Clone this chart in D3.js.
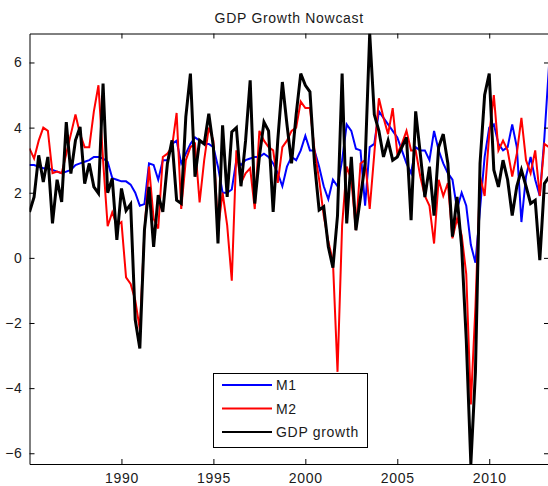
<!DOCTYPE html>
<html><head><meta charset="utf-8">
<script src="https://cdn.jsdelivr.net/npm/d3@7"></script>
<style>
html,body{margin:0;padding:0;background:#fff;}
svg{display:block;}
text{font-family:"Liberation Sans",Arial,sans-serif;letter-spacing:0.7px;}
</style></head>
<body>
<svg id="chart" width="548" height="486"></svg>
<script>
// ---- data (quarterly, starting 1985Q1) ----
const startYear = 1985;
const gdpGrowth = [1.41,1.87,3.15,2.33,3.1,1.06,2.4,1.72,4.17,2.59,
  3.61,4.02,2.28,2.9,2.18,1.98,5.35,2.0,2.44,0.55,
  2.13,1.45,1.65,-1.9,-2.78,0.85,2.18,0.34,1.93,1.41,
  2.9,3.61,1.77,1.67,4.33,5.66,2.49,3.61,3.5,4.43,
  3.4,0.44,4.07,1.87,3.87,4.0,2.2,3.6,5.45,1.67,
  3.1,4.17,3.9,1.41,3.6,5.4,4.1,2.9,4.4,5.66,
  5.3,5.1,2.9,1.47,1.57,0.34,-0.3,1.3,5.66,1.06,
  3.1,0.85,1.87,2.9,6.89,4.4,3.9,3.1,3.6,3.0,
  3.1,3.4,3.7,1.16,4.5,3.2,1.87,2.8,1.3,3.4,
  3.8,2.9,0.65,1.87,0.34,-2.5,-6.33,-3.5,2.9,5.0,
  5.66,2.7,2.18,3.0,2.4,1.3,2.2,2.7,2.2,1.67,
  1.77,-0.07,2.28,2.49];
const m2 = [3.36,3.05,3.6,4.0,3.9,2.6,2.65,2.6,3.2,3.8,
  4.4,3.8,3.4,3.4,4.5,5.3,3.0,0.97,1.4,1.0,
  1.1,-0.6,-0.8,-1.3,-2.2,0.8,2.8,1.2,0.9,3.1,
  3.2,3.4,4.45,1.5,3.0,3.4,3.5,1.7,3.0,4.0,
  3.6,0.85,2.0,1.0,-0.7,3.3,2.3,2.6,2.75,1.5,
  3.9,3.6,3.4,3.3,2.3,3.4,3.6,3.9,4.0,4.8,
  4.6,4.6,3.3,2.4,1.3,0.5,-0.1,-3.5,1.0,2.8,
  2.4,0.85,2.9,3.0,1.5,3.2,4.9,4.3,3.8,4.6,
  3.2,3.5,3.9,3.3,3.3,2.5,1.9,1.6,0.44,2.4,
  1.9,2.3,0.6,1.2,0.7,-0.5,-4.5,-1.5,2.5,1.9,
  3.8,5.0,3.3,3.6,3.3,2.5,3.2,4.3,3.0,2.6,
  3.3,1.9,3.5,3.4];
const m1 = [2.85,2.85,2.8,2.75,2.75,2.7,2.65,2.6,2.65,2.7,
  2.85,2.9,2.95,3.0,3.1,3.1,3.05,2.95,2.45,2.4,
  2.35,2.35,2.25,2.0,1.6,1.65,2.9,2.85,2.4,3.0,
  3.0,3.5,3.6,2.9,3.2,3.5,3.7,3.6,3.5,3.5,
  3.4,2.8,2.0,2.0,2.1,3.0,2.85,3.0,3.05,3.1,
  3.1,3.2,3.1,2.9,2.6,2.2,2.8,3.1,3.0,3.3,
  3.75,3.3,3.3,2.8,2.2,1.8,2.4,2.2,3.0,4.1,
  3.9,3.35,3.3,1.6,3.4,3.5,4.5,4.3,4.1,3.9,
  3.7,3.3,2.9,2.6,3.4,3.3,3.3,3.0,3.9,3.3,
  2.9,2.6,2.4,1.5,2.0,1.6,0.4,-0.15,1.5,3.1,
  4.0,4.1,3.5,3.3,3.4,4.1,3.4,1.1,2.5,3.1,
  2.4,1.9,3.7,5.9];
const xTicks = [1990,1995,2000,2005,2010];
const yTicks = [-6,-4,-2,0,2,4,6];
const seriesNames = ["M1","M2","GDP growth"];
const seriesColors = ["#0000ff","#ff0000","#000000"];
const titleText = "GDP Growth Nowcast";

// ---- layout ----
const L = 29.5, R = 549, T = 33.5, B = 464;
const dates = gdpGrowth.map((_, i) => startYear + i / 4);
const x = d3.scaleLinear().domain([startYear, dates[dates.length - 1]]).range([L, R]);
const y = d3.scaleLinear().domain([-6.33, 6.89]).range([B, T]);

const svg = d3.select("#chart");
svg.append("defs").append("clipPath").attr("id", "clip")
  .append("rect").attr("x", L).attr("y", T).attr("width", R - L).attr("height", B - T);

// title
svg.append("text").attr("x", (L + R) / 2).attr("y", 22.5)
  .attr("text-anchor", "middle").attr("font-size", 14).attr("fill", "#1a1a1a")
  .text(titleText);

// lines
const series = [m1, m2, gdpGrowth];
const widths = [2, 2, 3];
const line = d3.line().x((d, i) => x(dates[i])).y(d => y(d));
const g = svg.append("g").attr("clip-path", "url(#clip)");
series.forEach((s, k) => {
  g.append("path").datum(s).attr("d", line)
    .attr("fill", "none").attr("stroke", seriesColors[k])
    .attr("stroke-width", widths[k]).attr("stroke-linejoin", "miter");
});

// axes (MATLAB-style box with inward ticks)
const axStyle = sel => {
  sel.selectAll("path").attr("stroke", "#000");
  sel.selectAll("line").attr("stroke", "#000");
  sel.selectAll("text").attr("fill", "#1a1a1a").attr("font-size", 14)
    .attr("font-family", "Liberation Sans, Arial, sans-serif");
};
svg.append("g").attr("transform", `translate(0,${B})`)
  .call(d3.axisBottom(x).tickValues(xTicks).tickFormat(d3.format("d"))
    .tickSizeInner(-5).tickSizeOuter(0).tickPadding(9)).call(axStyle);
svg.append("g").attr("transform", `translate(0,${T})`)
  .call(d3.axisTop(x).tickValues(xTicks).tickFormat("")
    .tickSizeInner(-5).tickSizeOuter(0)).call(axStyle);
svg.append("g").attr("transform", `translate(${L},0)`)
  .call(d3.axisLeft(y).tickValues(yTicks).tickFormat(d3.format("d"))
    .tickSizeInner(-5).tickSizeOuter(0).tickPadding(7)).call(axStyle);
svg.append("g").attr("transform", `translate(${R},0)`)
  .call(d3.axisRight(y).tickValues(yTicks).tickFormat("")
    .tickSizeInner(-5).tickSizeOuter(0)).call(axStyle);

// legend
const lg = svg.append("g");
lg.append("rect").attr("x", 213.5).attr("y", 373.5).attr("width", 154).attr("height", 74)
  .attr("fill", "#fff").attr("stroke", "#000").attr("stroke-width", 1);
seriesNames.forEach((name, k) => {
  const yy = 385 + k * 23.5;
  lg.append("line").attr("x1", 222).attr("x2", 272).attr("y1", yy).attr("y2", yy)
    .attr("stroke", seriesColors[k]).attr("stroke-width", 2);
  lg.append("text").attr("x", 276).attr("y", yy + 5).attr("font-size", 14)
    .attr("fill", "#1a1a1a").text(name);
});
</script>
</body></html>
